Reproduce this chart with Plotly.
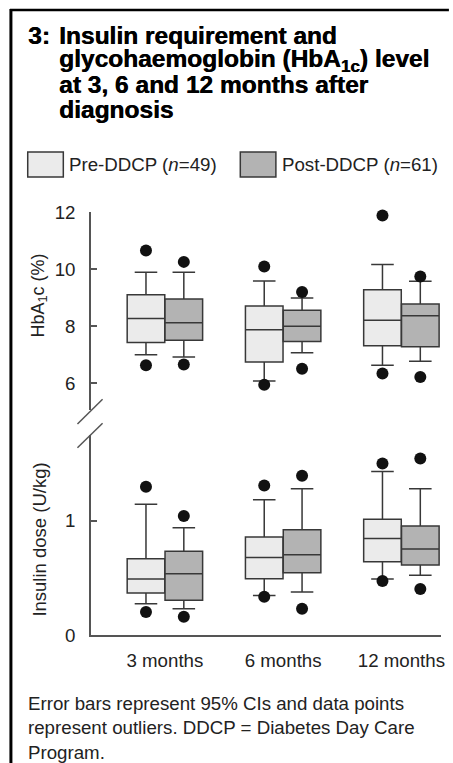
import plotly.graph_objects as go

# ---------------- data ----------------
categories = ["3 months", "6 months", "12 months"]
group_names = ["Pre-DDCP", "Post-DDCP"]
n_pre, n_post = 49, 61

hba1c_ticks = [6, 8, 10, 12]
insulin_ticks = [0, 1]

# HbA1c (%)
hba1c_pre_q1 = [7.42, 6.74, 7.31]
hba1c_pre_median = [8.26, 7.87, 8.20]
hba1c_pre_q3 = [9.10, 8.70, 9.27]
hba1c_pre_low = [6.99, 6.07, 6.62]
hba1c_pre_high = [9.89, 9.58, 10.16]
hba1c_pre_out = [[6.62, 10.65], [5.94, 10.09], [6.33, 11.88]]

hba1c_post_q1 = [7.50, 7.46, 7.27]
hba1c_post_median = [8.11, 7.99, 8.36]
hba1c_post_q3 = [8.95, 8.55, 8.77]
hba1c_post_low = [6.91, 7.06, 6.76]
hba1c_post_high = [9.89, 8.98, 9.57]
hba1c_post_out = [[6.65, 10.25], [6.50, 9.19], [6.21, 9.74]]

# Insulin dose (U/kg)
insulin_pre_q1 = [0.367, 0.493, 0.641]
insulin_pre_median = [0.490, 0.679, 0.845]
insulin_pre_q3 = [0.668, 0.857, 1.012]
insulin_pre_low = [0.274, 0.345, 0.490]
insulin_pre_high = [1.143, 1.184, 1.431]
insulin_pre_out = [[0.201, 1.297], [0.335, 1.309], [0.472, 1.501]]

insulin_post_q1 = [0.303, 0.545, 0.612]
insulin_post_median = [0.536, 0.703, 0.752]
insulin_post_q3 = [0.732, 0.921, 0.953]
insulin_post_low = [0.230, 0.376, 0.522]
insulin_post_high = [0.939, 1.280, 1.280]
insulin_post_out = [[0.160, 1.041], [0.230, 1.394], [0.402, 1.545]]

# ---------------- layout helpers ----------------
W, H = 453, 763
L, R, T, B = 91, 8, 212, 128
PW, PH = W - L - R, H - T - B


def px(x):
    return (x - L) / PW


def py(y):
    return (H - B - y) / PH


FONT = "Liberation Sans, Arial, Helvetica, sans-serif"
TXT = "#222222"
LINE = "#383838"
AXC = "#555555"
FILL_PRE = "#ebebeb"
FILL_POST = "#b3b3b3"
FS = 18.7

OFF = 0.16
BW = 0.318
xpos = list(range(len(categories)))

fig = go.Figure()


def add_box(q1, med, q3, lo, hi, outs, offset, fill, yaxis):
    xs = [x + offset for x in xpos]
    fig.add_trace(go.Box(
        x=xs, q1=q1, median=med, q3=q3, lowerfence=lo, upperfence=hi,
        width=BW, fillcolor=fill, line=dict(color=LINE, width=1.5),
        whiskerwidth=0.6, boxpoints=False, yaxis=yaxis, xaxis="x",
        showlegend=False, hoverinfo="skip"))
    ox, oy = [], []
    for x, vals in zip(xs, outs):
        for v in vals:
            ox.append(x)
            oy.append(v)
    fig.add_trace(go.Scatter(
        x=ox, y=oy, mode="markers", yaxis=yaxis, xaxis="x",
        marker=dict(size=12, color="#111111"), cliponaxis=False,
        showlegend=False, hoverinfo="skip"))


add_box(hba1c_pre_q1, hba1c_pre_median, hba1c_pre_q3, hba1c_pre_low, hba1c_pre_high,
        hba1c_pre_out, -OFF, FILL_PRE, "y2")
add_box(hba1c_post_q1, hba1c_post_median, hba1c_post_q3, hba1c_post_low, hba1c_post_high,
        hba1c_post_out, OFF, FILL_POST, "y2")
add_box(insulin_pre_q1, insulin_pre_median, insulin_pre_q3, insulin_pre_low, insulin_pre_high,
        insulin_pre_out, -OFF, FILL_PRE, "y")
add_box(insulin_post_q1, insulin_post_median, insulin_post_q3, insulin_post_low, insulin_post_high,
        insulin_post_out, OFF, FILL_POST, "y")

axis_common = dict(showline=True, linecolor=AXC, linewidth=1.5, showgrid=False,
                   zeroline=False, tickfont=dict(family=FONT, size=FS, color=TXT))

fig.update_layout(
    width=W, height=H,
    margin=dict(l=L, r=R, t=T, b=B, pad=0),
    paper_bgcolor="white", plot_bgcolor="white",
    font=dict(family=FONT, size=FS, color=TXT),
    showlegend=False,
    xaxis=dict(range=[-0.625, 2.335], tickvals=xpos, ticktext=categories,
               ticks="", anchor="y", ticklabelstandoff=8, **axis_common),
    yaxis=dict(domain=[0, py(435)], range=[0, 1.75], tickvals=insulin_ticks,
               ticks="inside", ticklen=6, tickcolor=AXC, tickwidth=1.5,
               anchor="x", ticklabelstandoff=10, **axis_common),
    yaxis2=dict(domain=[py(410), 1], range=[12 - (410 - T) / 28.5, 12],
                tickvals=hba1c_ticks, ticks="inside", ticklen=6, tickcolor=AXC,
                tickwidth=1.5, anchor="x", ticklabelstandoff=10, **axis_common),
)

shapes = []
# frame (top and left rules)
shapes.append(dict(type="line", xref="paper", yref="paper", x0=px(9), x1=px(W), y0=py(10), y1=py(10),
                   line=dict(color="black", width=2.5)))
shapes.append(dict(type="line", xref="paper", yref="paper", x0=px(10), x1=px(10), y0=py(9), y1=py(H),
                   line=dict(color="black", width=3)))
# axis break marks
for (x0, y0, x1, y1) in [(77.3, 424, 102.7, 399.3), (77.3, 447.7, 102.7, 423.3)]:
    shapes.append(dict(type="line", xref="paper", yref="paper", x0=px(x0), y0=py(y0),
                       x1=px(x1), y1=py(y1), line=dict(color=AXC, width=1.5)))
# legend swatches
for (x0, fill) in [(27, FILL_PRE), (242, FILL_POST)]:
    shapes.append(dict(type="rect", xref="paper", yref="paper", x0=px(x0), x1=px(x0 + 36),
                       y0=py(177), y1=py(152), fillcolor=fill, line=dict(color=LINE, width=1.5)))
fig.update_layout(shapes=shapes)

ann = []
# title
TF = dict(family=FONT, size=24.5, color="black", weight="bold", shadow="0.5px 0px 0px #000")
ann.append(dict(text="<b>3:</b>", x=px(25), y=py(35.5), xref="paper", yref="paper",
                xanchor="left", yanchor="middle", showarrow=False, font=TF))
title_lines = ["<b>Insulin requirement and</b>",
               "<b>glycohaemoglobin (HbA<sub>1c</sub>) level</b>",
               "<b>at 3, 6 and 12 months after</b>",
               "<b>diagnosis</b>"]
for i, t in enumerate(title_lines):
    ann.append(dict(text=t, x=px(57), y=py(35.5 + 24.7 * i), xref="paper", yref="paper",
                    xanchor="left", yanchor="middle", showarrow=False, font=TF))
# legend text
ann.append(dict(text=f"{group_names[0]} (<i>n</i>={n_pre})",
                x=px(67), y=py(165), xref="paper", yref="paper", xanchor="left",
                yanchor="middle", showarrow=False))
ann.append(dict(text=f"{group_names[1]} (<i>n</i>={n_post})",
                x=px(282), y=py(165), xref="paper", yref="paper", xanchor="left",
                yanchor="middle", showarrow=False))
# y-axis titles
ann.append(dict(text="HbA<sub>1</sub>c (%)", x=px(38), y=py(296), xref="paper", yref="paper",
                textangle=-90, xanchor="center", yanchor="middle", showarrow=False,
                font=dict(size=18)))
ann.append(dict(text="Insulin dose (U/kg)", x=px(38), y=py(540), xref="paper", yref="paper",
                textangle=-90, xanchor="center", yanchor="middle", showarrow=False,
                font=dict(size=18.5)))
# footnote
foot = ["Error bars represent 95% CIs and data points",
        "represent outliers. DDCP = Diabetes Day Care",
        "Program."]
for i, t in enumerate(foot):
    ann.append(dict(text=t, x=px(25), y=py(703 + 24.5 * i), xref="paper", yref="paper",
                    xanchor="left", yanchor="middle", showarrow=False))
fig.update_layout(annotations=ann)

fig.write_html("out.html", config={"displayModeBar": False},
               post_script="document.body.style.margin='0';")
